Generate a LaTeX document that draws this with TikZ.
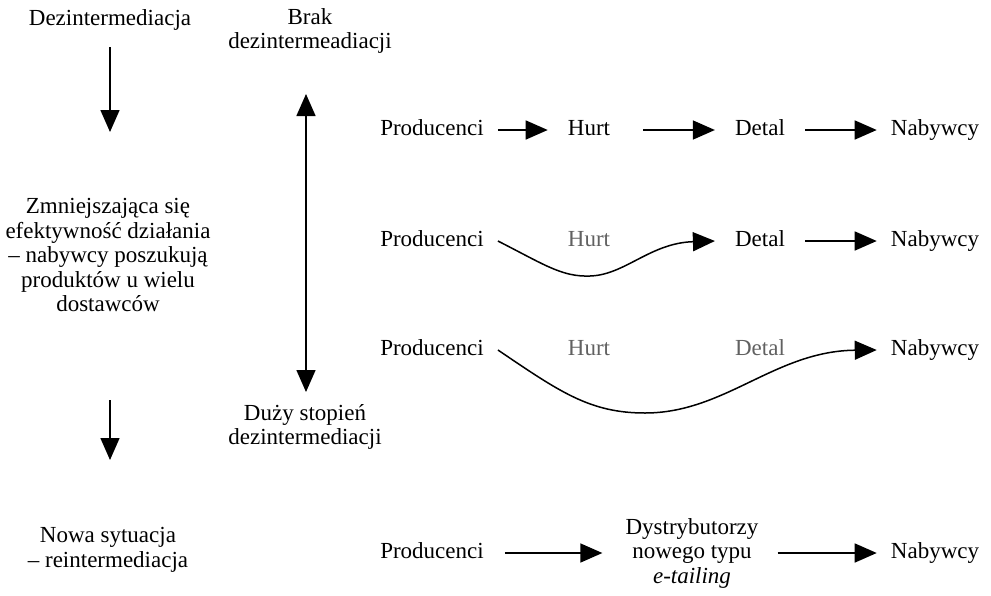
\documentclass[tikz,border=0pt]{standalone}
\usepackage{fontspec}
\setmainfont{Liberation Serif}
\usetikzlibrary{arrows.meta}
\begin{document}
\begin{tikzpicture}[x=1pt,y=-1pt,
  lbl/.style={inner sep=0pt, font=\fontsize{23}{25}\selectfont, text height=16pt, text depth=5pt},
  blk/.style={inner sep=0pt, align=center, font=\fontsize{23}{24.5}\selectfont},
  faint/.style={text=black!62},
  arr/.style={line width=1.5pt, -{Triangle[length=22pt,width=19pt]}},
  dbl/.style={line width=1.5pt, {Triangle[length=22pt,width=19pt]}-{Triangle[length=22pt,width=19pt]}},
]
\useasboundingbox (0,0) rectangle (991,595);

% left column
\node[lbl] (dez) at (110,20) {Dezintermediacja};
\node[blk] (mid) at (108,255) {Zmniejszająca się\\efektywność działania\\– nabywcy poszukują\\produktów u wielu\\dostawców};
\node[blk] (nowa) at (108,550) {Nowa sytuacja\\– reintermediacja};
\coordinate (a1s) at (110,47);
\coordinate (a1e) at (110,132);
\coordinate (a2s) at (110,400);
\coordinate (a2e) at (110,460);
\draw[arr] (a1s) -- (a1e);
\draw[arr] (a2s) -- (a2e);

% scale column
\node[blk] (brak) at (310,31) {Brak\\dezintermeadiacji};
\node[blk] (duzy) at (305,427) {Duży stopień\\dezintermediacji};
\coordinate (dtop) at (306,94);
\coordinate (dbot) at (306,392);
\draw[dbl] (dtop) -- (dbot);

% row 1
\node[lbl] (p1) at (432,130) {Producenci};
\node[lbl] (h1) at (589,130) {Hurt};
\node[lbl] (d1) at (760,130) {Detal};
\node[lbl] (n1) at (935,130) {Nabywcy};
\draw[arr, shorten <=14pt, shorten >=20pt] (p1.east) -- (h1.west);
\draw[arr, shorten <=33pt, shorten >=20pt] (h1.east) -- (d1.west);
\draw[arr, shorten <=20pt, shorten >=14pt] (d1.east) -- (n1.west);

% row 2
\node[lbl] (p2) at (432,241) {Producenci};
\node[lbl,faint] (h2) at (589,241) {Hurt};
\node[lbl] (d2) at (760,241) {Detal};
\node[lbl] (n2) at (935,241) {Nabywcy};
\draw[arr] ([xshift=14pt]p2.east) .. controls (545,265) and (562,277) .. (590,276)
   .. controls (625,275) and (650,243) .. ([xshift=-20pt]d2.west);
\draw[arr, shorten <=20pt, shorten >=14pt] (d2.east) -- (n2.west);

% row 3
\node[lbl] (p3) at (432,350) {Producenci};
\node[lbl,faint] (h3) at (589,350) {Hurt};
\node[lbl,faint] (d3) at (760,350) {Detal};
\node[lbl] (n3) at (935,350) {Nabywcy};
\draw[arr] ([xshift=14pt]p3.east) .. controls (560,392) and (590,413) .. (645,413)
   .. controls (725,413) and (775,351) .. ([xshift=-14pt]n3.west);

% row 4
\node[lbl] (p4) at (432,553) {Producenci};
\node[blk] (dy) at (692,553) {Dystrybutorzy\\nowego typu\\\textit{e-tailing}};
\node[lbl] (n4) at (935,553) {Nabywcy};
\draw[arr, shorten <=21pt, shorten >=23pt] (p4.east) -- (dy.west);
\draw[arr, shorten <=19pt, shorten >=14pt] (dy.east) -- (n4.west);
\end{tikzpicture}
\end{document}
